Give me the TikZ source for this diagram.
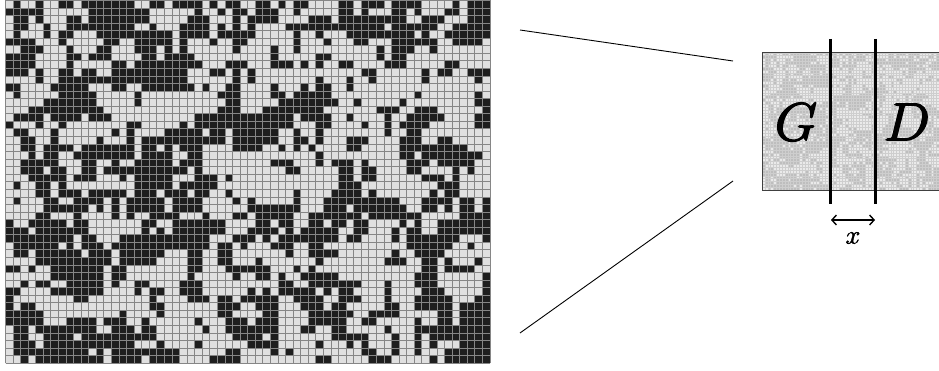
\documentclass[tikz,border=0pt]{standalone}
\usetikzlibrary{arrows.meta}
\definecolor{cellD}{HTML}{1E1E1E}
\definecolor{cellL}{HTML}{E0E0E0}
\definecolor{gridG}{HTML}{868686}
\definecolor{miniD}{HTML}{BEBEBE}
\definecolor{miniL}{HTML}{EAEAEA}
\definecolor{miniG}{HTML}{CECECE}
\newcommand{\heavytext}[2]{\special{pdf:code q 2 Tr #1 w}#2\special{pdf:code Q}}
\newcommand{\cellrows}[1]{%
\foreach \r/\lst in {%
0/{1/2,4/5,7/9,10/17,19/21,22/26,27/28,29/31,33/35,36/37,38/40,44/46,47/50,51/55,59/60,61/64},
1/{0/5,11/19,25/26,28/29,30/32,33/36,38/39,44/46,47/48,51/53,54/55,58/60,61/64},
2/{1/3,4/5,8/10,11/19,24/27,30/31,32/36,40/43,44/53,55/58,61/64},
3/{1/3,5/6,8/17,19/20,23/27,28/29,30/31,32/33,37/50,51/57,59/64},
4/{1/2,5/6,7/9,12/22,23/27,28/33,38/39,41/42,45/54,55/56,58/64},
5/{0/4,7/8,13/15,17/22,23/24,27/28,30/32,38/39,42/43,46/48,51/57,59/63},
6/{2/5,8/9,12/14,17/20,21/22,23/24,30/31,35/36,38/39,49/50,51/54,56/57},
7/{0/4,8/10,11/14,18/20,21/25,35/36,41/43,49/50,51/53},
8/{0/4,8/9,14/16,17/26,29/32,35/38,39/40,41/42,44/46,50/53,58/60},
9/{0/3,4/5,7/9,10/12,14/24,27/29,30/31,32/33,47/49,55/56,57/59,61/64},
10/{4/5,7/24,30/31,32/33,41/42,45/46,48/49,55/56,62/63},
11/{0/2,6/11,14/16,18/25,26/27,29/31,35/36,39/40,41/43,45/46},
12/{1/2,7/12,17/18,28/31,35/37,38/43,54/55,62/63},
13/{5/12,17/18,29/31,36/44,46/47,52/53,62/64},
14/{3/13,28/31,34/42,49/52,54/57,63/64},
15/{1/5,6/10,11/14,25/38,39/43,45/46,50/51,53/58,62/64},
16/{0/1,4/5,7/8,16/18,23/24,25/38,41/43,47/48,50/51,52/56,62/64},
17/{1/3,6/7,14/15,16/17,21/26,27/29,30/36,38/39,41/42,50/51,53/55},
18/{2/4,6/7,12/13,16/17,18/29,30/36,38/40,41/42,45/48,52/55,57/59},
19/{2/4,5/9,10/17,18/20,21/22,23/26,30/34,36/37,38/39,40/41,45/47,52/61},
20/{3/4,5/7,9/17,18/22,24/26,41/42,52/54,55/63},
21/{2/7,10/12,14/15,17/22,23/26,35/38,41/42,43/46,47/48,53/56,57/62},
22/{2/5,6/8,10/12,13/24,25/26,37/39,44/46,47/49,53/55,59/60,61/62},
23/{3/8,9/12,15/16,17/22,25/28,29/30,44/46,47/49,55/58,59/60},
24/{1/2,4/6,7/8,17/22,23/28,44/47,57/60},
25/{4/6,7/10,11/16,17/20,21/24,25/27,29/30,38/39,43/47,48/49,56/57,58/60},
26/{1/2,5/7,9/13,14/15,16/21,22/26,30/31,32/33,38/39,42/52,55/59,60/62,63/64},
27/{5/11,12/13,14/15,16/21,22/26,32/39,42/45,46/53,55/57,58/59,60/62,63/64},
28/{4/6,9/10,14/15,16/17,19/23,26/27,30/32,33/38,40/47,48/55,60/64},
29/{0/1,3/8,9/11,18/20,22/29,33/35,36/38,40/42,43/45,46/48,52/53,54/55,57/64},
30/{0/3,4/11,18/19,20/21,22/29,32/36,37/38,39/44,46/48,51/52,53/55,57/64},
31/{0/9,10/12,15/27,30/33,34/35,36/44,45/47,51/52,53/60,63/64},
32/{1/7,8/9,10/13,14/27,28/30,31/32,35/38,40/42,53/59,61/62},
33/{1/3,4/10,11/14,15/21,24/26,28/30,37/38,40/44,51/52,54/58},
34/{4/14,15/20,24/26,28/30,33/34,41/42,50/53,55/57,58/59,62/63},
35/{0/2,3/4,6/13,14/16,24/26,29/35,38/39,40/41,55/57,58/62},
36/{6/13,14/16,24/25,30/31,33/35,36/37,39/44,54/57,63/64},
37/{2/3,4/6,8/13,14/15,17/19,23/26,36/38,40/47,50/51,54/57,63/64},
38/{0/2,6/13,17/18,19/21,23/26,32/33,34/35,36/41,42/43,44/46,50/51,55/58,63/64},
39/{0/1,9/11,19/20,24/27,28/30,31/36,38/42,44/47,50/51,54/59,62/64},
40/{0/1,2/4,19/21,28/31,33/36,39/42,43/45,50/52,54/59,60/64},
41/{0/5,15/16,20/21,28/30,34/36,40/46,48/52,57/59,60/64},
42/{0/5,8/12,13/16,18/19,25/26,29/32,33/36,40/45,47/49,54/55,57/59,60/64},
43/{1/3,4/12,14/17,18/20,26/27,29/36,39/41,43/45,50/51,54/64},
44/{1/3,5/9,10/20,30/34,35/36,43/48,51/52,54/55,56/64},
45/{1/4,5/17,20/21,25/26,32/36,41/42,45/46,47/48,51/52,54/55,56/57,60/64},
46/{1/11,12/13,14/23,29/31,35/36,37/38,47/49,51/52,54/55,58/64},
47/{2/3,4/13,14/18,19/23,27/31,41/43,48/51,56/57,58/64}%
}{\foreach \a/\b in \lst {\fill[#1] (\a,48-\r) rectangle (\b,47-\r);}}}
\tikzset{
 thinlink/.style={draw=black,line width=0.9pt},
 bar/.style={draw=black,line width=3pt},
 gap/.style={draw=black,line width=1.4pt,{Straight Barb[length=4.5pt,width=10pt]}-{Straight Barb[length=4.5pt,width=10pt]}},
 biglabel/.style={scale=5.4,inner sep=0pt,text=black},
 smalllabel/.style={scale=2.6,inner sep=0pt,text=black}
}
\begin{document}
\begin{tikzpicture}[x=1pt,y=1pt]
\useasboundingbox (0,0) rectangle (939,370);
\clip (0,0) rectangle (939,370);
% large grid
\begin{scope}[shift={(5.5,6.7)},x=7.57pt,y=7.56pt]
\fill[cellL] (0,0) rectangle (64,48);
\cellrows{cellD}
\draw[gridG,line width=0.9pt] (0,0) grid[step=1] (64,48);
\end{scope}
% small panel
\begin{scope}[shift={(762,180)},x=2.86pt,y=2.86pt]
\fill[miniL] (0,0) rectangle (64,48);
\cellrows{miniD}
\draw[miniG,line width=0.3pt] (0,0) grid[step=1] (64,48);
\draw[black!75,line width=0.9pt] (0,0) rectangle (64,48);
\end{scope}
\coordinate (bigTR) at (520,340);
\coordinate (bigBR) at (520,37);
\coordinate (miniTL) at (733,309);
\coordinate (miniBL) at (733,189);
\draw[thinlink] (bigTR) -- (miniTL);
\draw[thinlink] (bigBR) -- (miniBL);
\coordinate (b1t) at (830.5,331);
\coordinate (b1b) at (830.5,166);
\coordinate (b2t) at (875.5,331);
\coordinate (b2b) at (875.5,166);
\draw[bar] (b1t) -- (b1b);
\draw[bar] (b2t) -- (b2b);
\coordinate (a1) at (831,150);
\coordinate (a2) at (875,150);
\draw[gap] (a1) -- (a2);
\node[biglabel] (G) at (796,248) {\heavytext{0.2}{$G$}};
\node[biglabel] (D) at (907,248) {\heavytext{0.2}{$D$}};
\node[smalllabel] (X) at (853,132) {\heavytext{0.15}{$x$}};
\end{tikzpicture}
\end{document}
